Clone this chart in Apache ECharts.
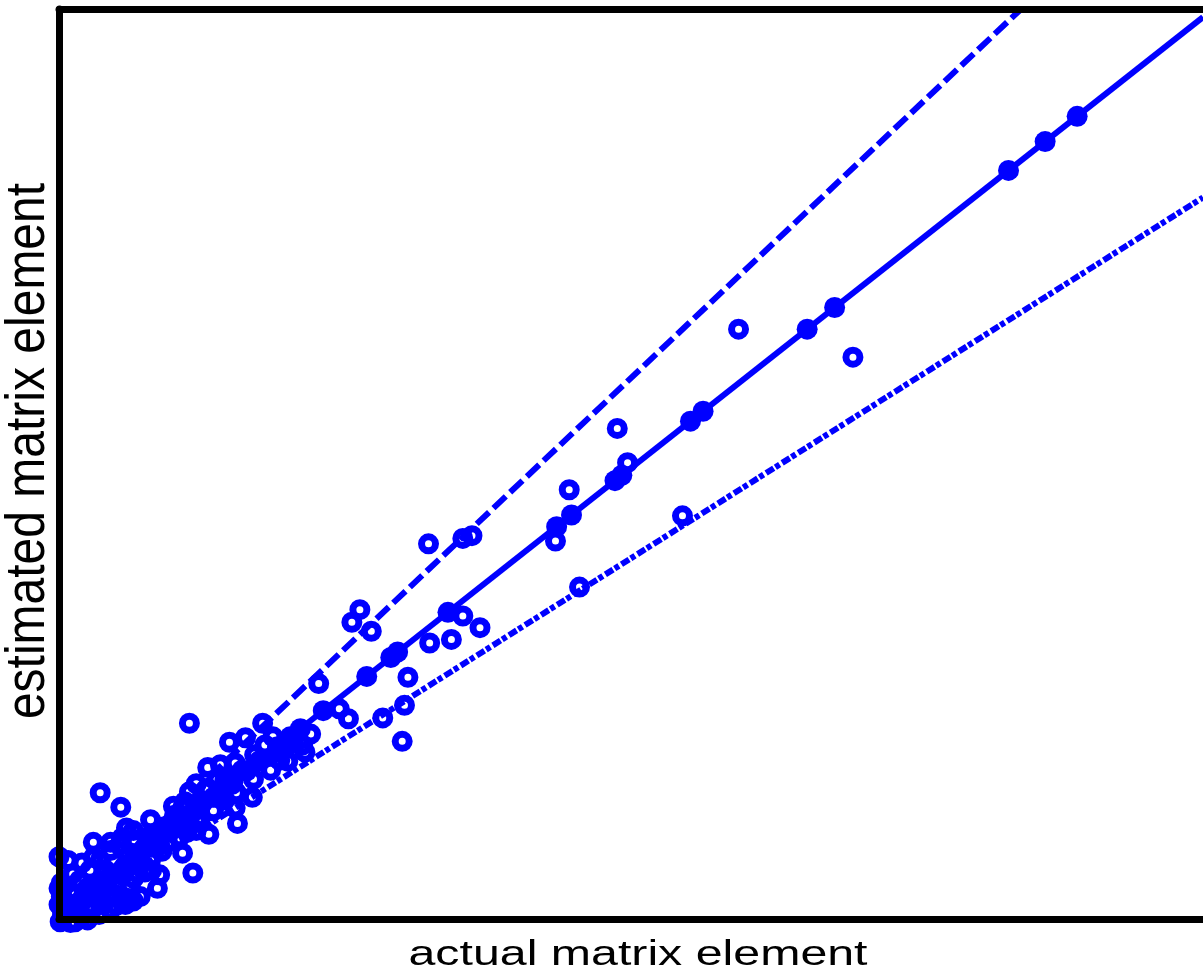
<!DOCTYPE html>
<html>
<head>
<meta charset="utf-8">
<script src="https://cdn.jsdelivr.net/npm/echarts@6/dist/echarts.min.js"></script>
<style>
  html, body { margin: 0; padding: 0; background: #fff; }
  #chart { width: 1203px; height: 973px; }
</style>
</head>
<body>
<div id="chart"></div>
<script>
// reference lines: estimate = actual, and +/- 20% bands
const fitLine = [[0, 0], [100, 100]];
const upperBand = [[0, 0], [84.1, 100.9]];
const lowerBand = [[0, 0], [100, 80]];

// diagonal elements (estimate equals actual)
const diagActual = [89.0, 86.2, 83.0, 67.8, 65.4, 56.3, 55.2, 49.2, 48.6, 44.8, 43.5, 34.0,
    29.6, 29.0, 26.9, 23.1, 21.1, 20.2, 19.1, 17.6, 16.4, 15.2, 13.5, 12.3, 10.8, 9.7, 8.8,
    7.95, 7.1, 6.4, 5.7, 5.0, 4.3, 3.6, 2.9, 2.3, 1.7, 1.1, 0.6, 0.3];
const diagEstimate = [89.0, 86.2, 83.0, 67.8, 65.4, 56.3, 55.2, 49.2, 48.6, 44.8, 43.5, 34.0,
    29.6, 29.0, 26.9, 23.1, 21.1, 20.2, 19.1, 17.6, 16.4, 15.2, 13.5, 12.3, 10.8, 9.7, 8.8,
    7.95, 7.1, 6.4, 5.7, 5.0, 4.3, 3.6, 2.9, 2.3, 1.7, 1.1, 0.6, 0.3];

// off-diagonal elements
const offActual = [59.4, 69.4, 48.8, 44.6, 49.7, 43.4, 54.5, 45.5, 32.3, 35.3, 36.1, 26.3,
    25.6, 27.3, 35.3, 36.8, 34.3, 32.4, 30.5, 22.7, 30.2, 28.3, 30.0, 24.5, 25.3, 11.4,
    17.8, 14.9, 15.4, 15.1, 16.9, 11.4, 15.4, 15.6, 13.1, 10.8, 12.3, 3.6, 5.4, 5.9, 3.0,
    0.0, 11.7, 8.6, 7.1, 16.3, 21.3, 18.7, 10.8, 13.8, 9.1, 12.1, 11.2, 8.1, 8.8, 0.0, 0.0,
    0.1, 1.4, 2.5, 1.8, 2.7, 3.6, 4.5, 5.3, 2.3, 3.1, 4.5, 5.8, 7.1, 1.0, 1.4, 3.6, 4.9,
    6.2, 7.5, 0.5, 4.5, 5.8, 6.6, 8.0, 8.8, 9.7, 10.1, 14.1, 17.1, 18.0, 19.3, 12.8, 14.5,
    0.5, 1.0, 1.5, 2.0, 2.5, 3.0, 3.5, 4.0, 1.2, 2.0, 3.0, 4.0, 5.0, 5.5, 6.0, 6.5, 7.0,
    4.5, 5.5, 7.5, 8.0, 9.0, 8.5, 9.5, 10.0, 10.5, 11.5, 12.0, 11.0, 12.5, 13.5, 13.0,
    14.0, 14.5, 15.5, 16.0, 17.0, 17.5, 18.5, 19.0, 20.0, 20.5, 21.5, 22.0, 13.0, 12.0,
    10.0, 8.0, 6.5, 3.5, 5.0, 6.5, 2.0, 1.0, 0.3, 0.2, 0.2, 0.8];
const offEstimate = [65.4, 62.3, 54.4, 47.6, 50.6, 41.9, 44.7, 36.8, 41.6, 42.2, 42.5, 34.3,
    32.9, 31.9, 33.6, 32.3, 31.0, 30.6, 26.8, 26.1, 23.7, 22.3, 19.7, 23.3, 22.2, 21.7,
    21.7, 19.6, 17.3, 14.9, 13.5, 14.1, 12.3, 10.6, 9.4, 7.3, 11.0, 14.0, 12.4, 10.1, 8.5,
    6.9, 5.1, 3.4, 2.5, 20.1, 19.3, 20.2, 12.3, 15.4, 10.2, 10.8, 9.6, 5.4, 4.9, 3.4, 1.6,
    -0.3, -0.3, -0.1, 4.3, 5.4, 6.5, 7.6, 8.2, 2.7, 3.8, 4.9, 6.0, 7.1, 1.6, 2.7, 1.6, 2.7,
    3.8, 5.2, 0.4, 1.0, 1.6, 8.8, 9.3, 8.2, 9.9, 11.5, 17.1, 18.2, 19.3, 17.6, 14.3, 13.2,
    2.0, 3.0, 1.0, 2.2, 3.5, 1.2, 2.5, 4.0, 5.0, 6.2, 6.8, 5.5, 3.5, 5.0, 7.0, 4.5, 6.0,
    8.5, 9.0, 8.0, 6.5, 7.5, 9.5, 8.5, 10.5, 9.0, 11.5, 9.8, 13.0, 12.8, 12.0, 14.5,
    13.5, 15.5, 14.0, 16.5, 15.5, 17.5, 16.5, 18.5, 17.5, 19.5, 18.5, 20.5, 16.8, 15.0,
    12.5, 11.0, 9.8, 0.5, 1.5, 2.0, 0.3, -0.4, 0.8, 4.0, 2.5, 6.5];

const BLUE = '#0000ff';
const chart = echarts.init(document.getElementById('chart'));

const hidden = { axisTick: { show: false }, axisLabel: { show: false }, splitLine: { show: false } };
const frame = { show: true, onZero: false, lineStyle: { color: '#000', width: 7 } };

const option = {
    animation: false,
    backgroundColor: '#fff',
    grid: { left: 59, right: 0, top: 9, bottom: 54 },
    xAxis: [
        Object.assign({ type: 'value', min: 0, max: 100, position: 'bottom', z: 10, axisLine: frame }, hidden),
        Object.assign({ type: 'value', min: 0, max: 100, position: 'top', z: 10, axisLine: frame }, hidden)
    ],
    yAxis: Object.assign({ type: 'value', min: 0, max: 100.9, z: 10, axisLine: frame }, hidden),
    graphic: [
        {
            type: 'text', x: 638, y: 955, scaleX: 1.38,
            style: { text: 'actual matrix element', font: '35px "Liberation Sans", Arial, sans-serif',
                fill: '#000', align: 'center', verticalAlign: 'middle' }
        },
        {
            type: 'text', x: 29, y: 451, rotation: Math.PI / 2, scaleY: 1.15,
            style: { text: 'estimated matrix element', font: '48px "Liberation Sans", Arial, sans-serif',
                fill: '#000', align: 'center', verticalAlign: 'middle' }
        }
    ],
    series: [
        {
            type: 'line', data: fitLine, symbol: 'none', silent: true,
            lineStyle: { color: BLUE, width: 6 }
        },
        {
            type: 'line', data: upperBand, symbol: 'none', silent: true,
            lineStyle: { color: BLUE, width: 6, type: [17, 6] }
        },
        {
            type: 'line', data: lowerBand, symbol: 'none', silent: true,
            lineStyle: { color: BLUE, width: 6, type: [9, 2, 5, 3] }
        },
        {
            type: 'scatter', clip: false,
            data: offActual.map((v, i) => [v, offEstimate[i]]),
            symbol: 'circle', symbolSize: 14,
            itemStyle: { color: 'rgba(0,0,0,0)', borderColor: BLUE, borderWidth: 7, opacity: 1 }
        },
        {
            type: 'scatter', clip: false,
            data: diagActual.map((v, i) => [v, diagEstimate[i]]),
            symbol: 'circle', symbolSize: 21,
            itemStyle: { color: BLUE, opacity: 1 }
        }
    ]
};

chart.setOption(option);
window.addEventListener('resize', () => chart.resize());
</script>
</body>
</html>
